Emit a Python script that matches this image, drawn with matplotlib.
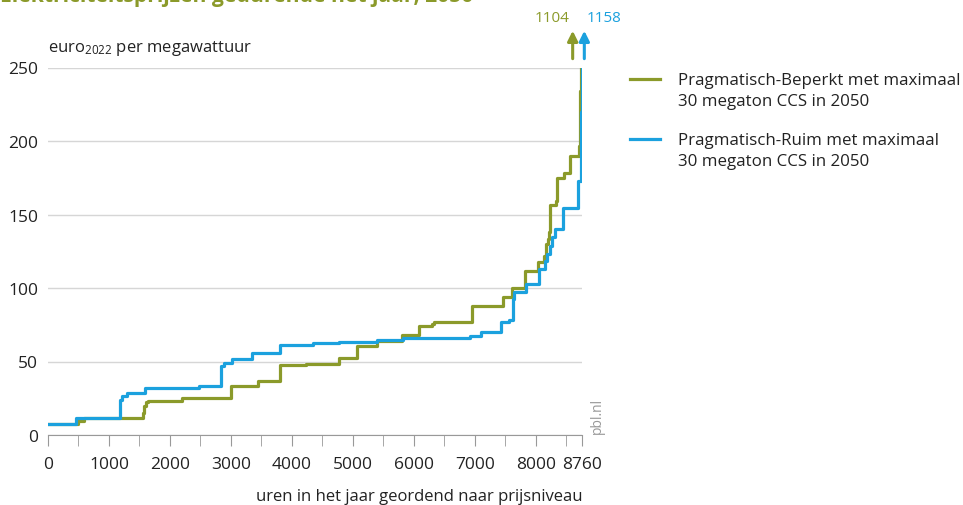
import matplotlib
matplotlib.use("Agg")
import matplotlib.pyplot as plt
from matplotlib.lines import Line2D

plt.rcParams['font.family'] = ['Open Sans', 'DejaVu Sans']
plt.rcParams['mathtext.default'] = 'regular'

# Data: hours (sorted by price level) where each step starts, and price from there on
beperkt_hours = [0, 500, 590, 1557, 1575, 1600, 1640, 2203, 3006, 3443,
                 3798, 4236, 4770, 5066, 5393, 5810, 6082, 6300, 6340, 6957,
                 7470, 7613, 7826, 8033, 8142, 8175, 8195, 8213, 8230, 8334,
                 8350, 8472, 8564, 8715, 8728, 8745]
beperkt_prices = [7.5, 9.5, 11.4, 15.3, 19.8, 22.5, 23.4, 25.0, 33.4, 36.8,
                  47.7, 48.6, 52.1, 60.7, 64.1, 68.0, 73.9, 75.5, 77.0, 87.5,
                  93.7, 100.2, 111.6, 117.9, 122.0, 130.0, 133.4, 138.0, 156.8, 159.5,
                  174.8, 178.2, 189.8, 196.6, 234.0, 1104]

ruim_hours = [0, 465, 1175, 1210, 1290, 1585, 2470, 2843, 2880, 3023,
              3351, 3800, 4344, 4770, 5400, 5820, 6925, 7105, 7433, 7557,
              7623, 7640, 7843, 8049, 8160, 8190, 8230, 8260, 8323, 8443,
              8700, 8745, 8760]
ruim_prices = [7.5, 11.4, 23.7, 26.2, 28.4, 32.3, 33.4, 47.0, 48.9, 51.6,
               55.7, 61.3, 62.3, 63.4, 64.8, 66.1, 67.5, 69.8, 77.0, 78.4,
               92.5, 97.0, 102.5, 113.0, 118.6, 123.0, 128.8, 134.6, 140.2, 154.5,
               172.5, 220.0, 1158]

series_labels = ['Pragmatisch-Beperkt met maximaal\n30 megaton CCS in 2050',
                 'Pragmatisch-Ruim met maximaal\n30 megaton CCS in 2050']
max_labels = ['1104', '1158']
x_ticks = [0, 1000, 2000, 3000, 4000, 5000, 6000, 7000, 8000, 8760]
y_ticks = [0, 50, 100, 150, 200, 250]

green = '#8b9a2a'
blue = '#1ba1de'
text_col = '#222222'

fig = plt.figure(figsize=(9.63, 5.06), dpi=100)
ax = fig.add_axes([48 / 963, 1 - 436 / 506, 534 / 963, 367.5 / 506])

ax.plot(beperkt_hours, beperkt_prices, drawstyle='steps-post', color=green, lw=2.3)
ax.plot(ruim_hours, ruim_prices, drawstyle='steps-post', color=blue, lw=2.3)

ax.set_xlim(0, 8760)
ax.set_ylim(0, 250)
ax.set_xticks(x_ticks)
ax.set_xticks(range(500, 8760, 1000), minor=True)
ax.set_yticks(y_ticks)
ax.grid(axis='y', color='#d6d6d6', lw=1)
ax.set_axisbelow(True)
for s in ['top', 'right', 'left']:
    ax.spines[s].set_visible(False)
ax.spines['bottom'].set_color('#999999')
ax.tick_params(axis='y', length=0, pad=7, labelsize=12.5, labelcolor=text_col)
ax.tick_params(axis='x', which='both', length=8, color='#999999', pad=7,
               labelsize=12.5, labelcolor=text_col)

# arrows for the off-scale maxima
for xh, lab, col, ha, xt in [(8607, max_labels[0], green, 'right', 8560),
                             (8798, max_labels[1], blue, 'left', 8840)]:
    ax.annotate('', xy=(xh, 275), xytext=(xh, 256), annotation_clip=False,
                arrowprops=dict(arrowstyle='-|>,head_width=0.3,head_length=0.6',
                                color=col, lw=2.2, shrinkA=0, shrinkB=0))
    ax.text(xt, 284, lab, color=col, ha=ha, va='center', fontsize=11, clip_on=False)

fig.text(0, 1 - 2 / 506, 'Elektriciteitsprijzen gedurende het jaar, 2050',
         color=green, fontsize=15.2, fontweight='bold', va='baseline', ha='left')
fig.text(48 / 963, 1 - 52 / 506, 'euro$_{2022}$ per megawattuur', fontsize=12,
         color=text_col, va='baseline', ha='left')
fig.text(582 / 963, 1 - 501 / 506, 'uren in het jaar geordend naar prijsniveau',
         fontsize=12, color=text_col, va='baseline', ha='right')
fig.text(597 / 963, 1 - 434 / 506, 'pbl.nl', rotation=90, fontsize=10,
         color='#999999', ha='center', va='bottom')

# legend
for i, (lab, col) in enumerate(zip(series_labels, [green, blue])):
    y = 1 - (80 + 60 * i) / 506
    fig.add_artist(Line2D([630 / 963, 660 / 963], [y, y], color=col, lw=2.3))
    fig.text(678 / 963, y - 11.5 / 506, lab, fontsize=12.2, color=text_col,
             va='center', ha='left', linespacing=1.4)

fig.savefig('out.png', dpi=100)
